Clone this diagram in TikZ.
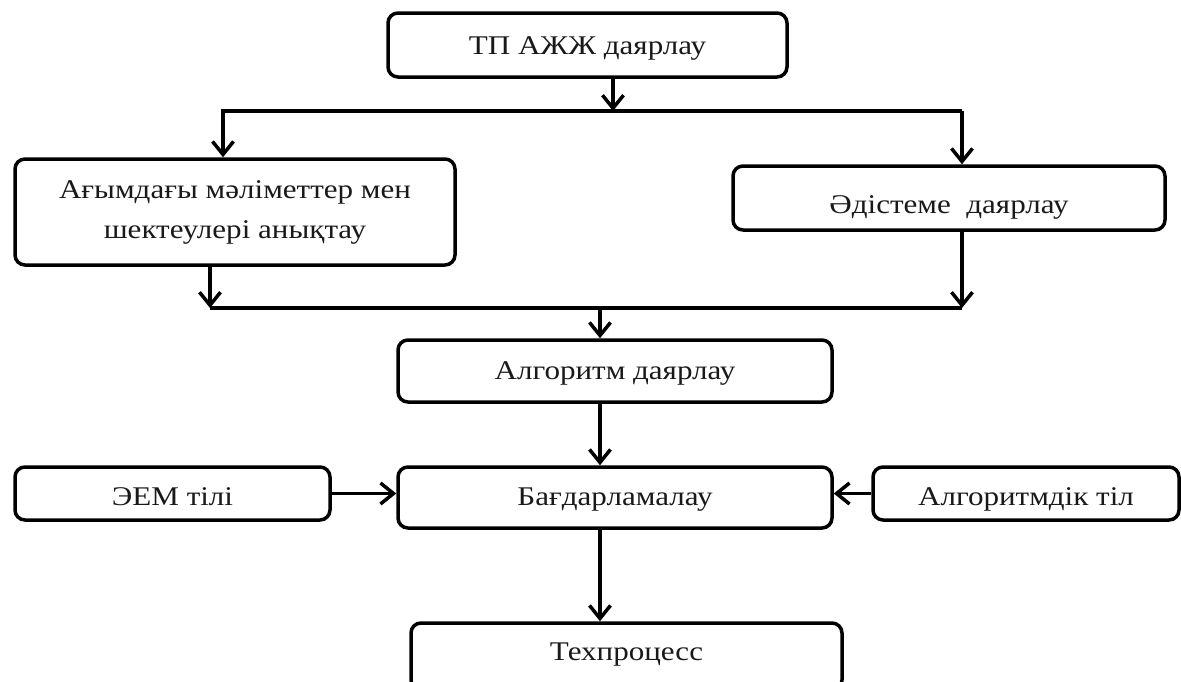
\documentclass[tikz,border=0pt]{standalone}
\usepackage{fontspec}
\setmainfont[FakeStretch=1.15]{Liberation Serif}
\usetikzlibrary{arrows.meta}
\begin{document}
\begin{tikzpicture}[x=1pt,y=-1pt,
  box/.style={draw=black, line width=3.5pt, rounded corners=10pt, fill=white,
    inner sep=0pt, align=center, font=\fontsize{27}{40}\selectfont, text=black!90},
  conn/.style={line width=3.5pt, draw=black},
  arr/.style={conn, -{Straight Barb[length=13pt,width=21pt,line join=miter]}}]
\useasboundingbox (0,0) rectangle (1181,681);
\clip (0,0) rectangle (1181,681);
\fill[white] (0,0) rectangle (1181,681);
% boxes
\node[box, minimum width=399pt, minimum height=64pt, text height=18pt, text depth=0pt] (top) at (587.5,45) {ТП АЖЖ даярлау};
\node[box, minimum width=440pt, minimum height=106pt] (left) at (235,212) {Ағымдағы мәліметтер мен\\шектеулері анықтау};
\node[box, minimum width=432pt, minimum height=64pt, text height=30pt, text depth=0pt] (right) at (949,198) {Әдістеме\ \ даярлау};
\node[box, minimum width=434pt, minimum height=62pt, text height=16pt, text depth=0pt] (alg) at (615,371) {Алгоритм даярлау};
\node[box, minimum width=434pt, minimum height=61pt, text height=15pt, text depth=0pt] (bag) at (615,497.5) {Бағдарламалау};
\node[box, minimum width=315pt, minimum height=53pt, text height=24pt, text depth=0pt] (eem) at (172.5,493.5) {ЭЕМ тілі};
\node[box, minimum width=306pt, minimum height=53pt, text height=23pt, text depth=0pt] (algtil) at (1026,493.5) {Алгоритмдік тіл};
\node[box, minimum width=431pt, minimum height=67pt, text height=8pt, text depth=0pt] (tech) at (626.5,656.5) {Техпроцесс};
% connector coordinates
\coordinate (sT) at (613,111);
\coordinate (L1) at (223,111);
\coordinate (R1) at (962,111);
\coordinate (L2) at (210,308);
\coordinate (R2) at (962,308);
\coordinate (M2) at (600,308);
% connectors
\draw[arr] (sT |- top.south) -- (sT);
\draw[arr] (R1) -- (L1) -- (L1 |- left.north);
\draw[arr] (R1) -- (R1 |- right.north);
\draw[conn] (L2) -- (R2);
\draw[arr] (L2 |- left.south) -- (L2);
\draw[arr] (R2 |- right.south) -- (R2);
\draw[arr] (M2) -- (M2 |- alg.north);
\draw[arr] (M2 |- alg.south) -- (M2 |- bag.north);
\draw[arr] (eem.east) -- (eem.east -| bag.west);
\draw[arr] (algtil.west) -- (algtil.west -| bag.east);
\draw[arr] (M2 |- bag.south) -- (M2 |- tech.north);
\end{tikzpicture}
\end{document}
